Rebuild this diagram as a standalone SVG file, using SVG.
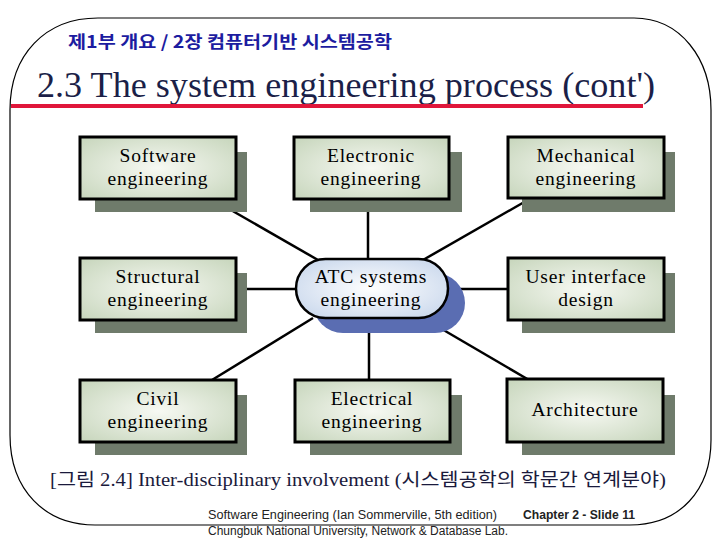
<svg xmlns="http://www.w3.org/2000/svg" width="717" height="538" viewBox="0 0 717 538">
<defs>
<radialGradient id="boxg" cx="0.5" cy="0.5" r="0.7">
<stop offset="0" stop-color="#f7f9f3"/>
<stop offset="1" stop-color="#c6d5bb"/>
</radialGradient>
<radialGradient id="ellg" cx="0.5" cy="0.5" r="0.7">
<stop offset="0" stop-color="#ffffff"/>
<stop offset="1" stop-color="#c3d3ea"/>
</radialGradient>
<style>
.frame{fill:none;stroke:#000;stroke-width:1.2}
.shadow{fill:#6f7b6b}
.box{fill:url(#boxg);stroke:#000;stroke-width:3}
.lbl{font-family:"Liberation Serif","Times New Roman",serif;font-size:19.5px;letter-spacing:0.8px;fill:#000;text-anchor:middle}
.con{stroke:#000;stroke-width:2.5;fill:none}
.foot{font-family:"Liberation Sans",Arial,sans-serif;font-size:12px;fill:#222}
</style>
</defs>
<rect width="717" height="538" fill="#fff"/>
<path class="frame" d="M10,110 C10,55 45,18 98,18 L634,18 C680,18 711,58 711,110 L711,440 C711,490 680,525 630,525 L95,525 C45,525 10,490 10,435 Z"/>
<text x="68" y="48" textLength="324" lengthAdjust="spacingAndGlyphs" style="font-family:'Noto Sans CJK KR','Noto Sans',sans-serif;font-weight:bold;font-size:17px;fill:#1c1ca0">제1부 개요 / 2장 컴퓨터기반 시스템공학</text>
<text x="37" y="97" textLength="618" lengthAdjust="spacingAndGlyphs" style="font-family:'Liberation Serif','Times New Roman',serif;font-size:35px;fill:#1b1f48">2.3 The system engineering process (cont')</text>
<rect x="11" y="104" width="632" height="4" fill="#e0163a"/>
<g id="connectors">
<line class="con" x1="210" y1="198" x2="318" y2="260"/>
<line class="con" x1="368" y1="199" x2="368" y2="260"/>
<line class="con" x1="533" y1="197" x2="423" y2="260"/>
<line class="con" x1="236" y1="289" x2="296" y2="289"/>
<line class="con" x1="447" y1="289" x2="508" y2="289"/>
<line class="con" x1="313" y1="318" x2="212" y2="380"/>
<line class="con" x1="369" y1="318" x2="369" y2="380"/>
<line class="con" x1="423" y1="318" x2="529" y2="380"/>
</g>
<g id="software">
<rect class="shadow" x="95" y="152" width="152" height="60"/>
<rect class="box" x="80" y="137" width="156" height="62"/>
<text class="lbl" x="158" y="162">Software</text>
<text class="lbl" x="158" y="185">engineering</text>
</g>
<g id="electronic">
<rect class="shadow" x="310" y="152" width="152" height="60"/>
<rect class="box" x="294" y="137" width="155" height="62"/>
<text class="lbl" x="371" y="162">Electronic</text>
<text class="lbl" x="371" y="185">engineering</text>
</g>
<g id="mechanical">
<rect class="shadow" x="522" y="152" width="153" height="60"/>
<rect class="box" x="508" y="137" width="156" height="61"/>
<text class="lbl" x="586" y="162">Mechanical</text>
<text class="lbl" x="586" y="185">engineering</text>
</g>
<g id="structural">
<rect class="shadow" x="95" y="273" width="152" height="60"/>
<rect class="box" x="80" y="258" width="156" height="62"/>
<text class="lbl" x="158" y="283">Structural</text>
<text class="lbl" x="158" y="306">engineering</text>
</g>
<g id="atc">
<rect x="313" y="273" width="152" height="60" rx="30" fill="#5a6db2"/>
<rect x="296" y="259" width="152" height="59" rx="29.5" fill="url(#ellg)" stroke="#000" stroke-width="2.5"/>
<text class="lbl" x="371" y="283">ATC systems</text>
<text class="lbl" x="371" y="306">engineering</text>
</g>
<g id="userinterface">
<rect class="shadow" x="522" y="273" width="153" height="60"/>
<rect class="box" x="508" y="258" width="156" height="62"/>
<text class="lbl" x="586" y="283">User interface</text>
<text class="lbl" x="586" y="306">design</text>
</g>
<g id="civil">
<rect class="shadow" x="95" y="395" width="152" height="60"/>
<rect class="box" x="80" y="380" width="156" height="62"/>
<text class="lbl" x="158" y="405">Civil</text>
<text class="lbl" x="158" y="428">engineering</text>
</g>
<g id="electrical">
<rect class="shadow" x="310" y="395" width="152" height="60"/>
<rect class="box" x="295" y="380" width="155" height="62"/>
<text class="lbl" x="372" y="405">Electrical</text>
<text class="lbl" x="372" y="428">engineering</text>
</g>
<g id="architecture">
<rect class="shadow" x="522" y="395" width="153" height="60"/>
<rect class="box" x="507" y="379" width="156" height="63"/>
<text class="lbl" x="585" y="416">Architecture</text>
</g>
<text x="50" y="486" textLength="616" lengthAdjust="spacingAndGlyphs" style="font-family:'Liberation Serif','Noto Sans CJK KR',serif;font-size:18px;fill:#1a1a3c">[그림 2.4] Inter-disciplinary involvement (시스템공학의 학문간 연계분야)</text>
<text class="foot" x="208" y="519" textLength="289" lengthAdjust="spacingAndGlyphs">Software Engineering (Ian Sommerville, 5th edition)</text>
<text class="foot" x="523" y="519" textLength="112" lengthAdjust="spacingAndGlyphs" font-weight="bold" fill="#000">Chapter 2 - Slide 11</text>
<text class="foot" x="208" y="535" textLength="300" lengthAdjust="spacingAndGlyphs">Chungbuk National University, Network &amp; Database Lab.</text>
</svg>
